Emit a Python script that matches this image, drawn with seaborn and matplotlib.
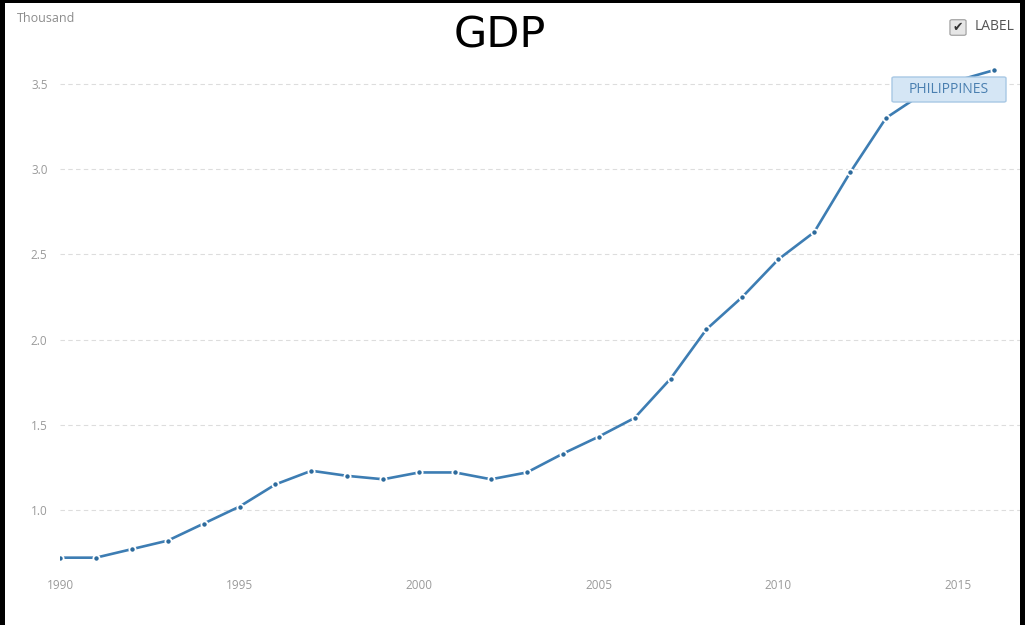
import pandas as pd
import matplotlib.pyplot as plt
import seaborn as sns
from matplotlib.patches import Rectangle, FancyBboxPatch

# GDP per capita, Philippines (thousand US$)
years = list(range(1990, 2017))
gdp = [0.72, 0.72, 0.77, 0.82, 0.92, 1.02, 1.15, 1.23, 1.20, 1.18,
       1.22, 1.22, 1.18, 1.22, 1.33, 1.43, 1.54, 1.77, 2.06, 2.25,
       2.47, 2.63, 2.98, 3.30, 3.44, 3.52, 3.58]
ytick_vals = [1.0, 1.5, 2.0, 2.5, 3.0, 3.5]
xtick_vals = [1990, 1995, 2000, 2005, 2010, 2015]
series_label = "PHILIPPINES"

df = pd.DataFrame({"year": years, "gdp": gdp})

sns.set_style("white")
plt.rcParams["font.family"] = ["Open Sans", "DejaVu Sans"]

W, H = 1025, 625
fig = plt.figure(figsize=(W / 100, H / 100), dpi=100)
# axes in pixel terms: left 60, right 1020, top 60, bottom 565
ax = fig.add_axes([60 / W, (H - 565) / H, 960 / W, 505 / H])

line_color = "#3d7db3"
sns.lineplot(data=df, x="year", y="gdp", ax=ax, color=line_color,
             linewidth=1.9, marker="o", markersize=4.5,
             markerfacecolor="#2d6a9c", markeredgecolor="white",
             markeredgewidth=1.3)

ax.set_xlim(1990, 2016.73)
ax.set_ylim(0.677, 3.64)
ax.set_yticks(ytick_vals)
ax.set_yticklabels([f"{v:.1f}" for v in ytick_vals])
ax.set_xticks(xtick_vals)
ax.set_xticklabels([str(v) for v in xtick_vals])
ax.tick_params(axis="y", length=0, labelsize=8.5, labelcolor="#9a9a9a", pad=9)
ax.tick_params(axis="x", length=4, width=0.6, color="#cccccc", direction="out",
               labelsize=8.5, labelcolor="#9a9a9a", pad=6)
ax.set_xlabel("")
ax.set_ylabel("")
for sp in ax.spines.values():
    sp.set_visible(False)
ax.grid(axis="y", color="#dddddd", linestyle=(0, (4, 3)), linewidth=0.8)
ax.set_axisbelow(True)

# series label box (pixel box 892-1006 x 77-102)
fig.patches.append(FancyBboxPatch((892 / W, 1 - 102 / H), 114 / W, 25 / H,
                                  boxstyle="round,pad=0,rounding_size=0.002",
                                  fc="#d5e6f5", ec="#a8c8e4", lw=1,
                                  transform=fig.transFigure, zorder=5))
fig.text(949 / W, 1 - 89.5 / H, series_label, ha="center", va="center",
         fontsize=10, color="#4a7fb0", zorder=6)

# title and unit
fig.text(500 / W, 1 - 35 / H, "GDP", ha="center", va="center", fontsize=31,
         color="black", family=["DejaVu Sans"])
fig.text(17 / W, 1 - 18 / H, "Thousand", ha="left", va="center", fontsize=9,
         color="#8c8c8c")

# "LABEL" checkbox
fig.patches.append(FancyBboxPatch((952 / W, 1 - 34 / H), 12 / W, 13 / H,
                                  boxstyle="round,pad=0.002", fc="#e6e6e6",
                                  ec="#9a9a9a", lw=0.8, transform=fig.transFigure))
fig.text(958 / W, 1 - 27.5 / H, "\u2714", ha="center", va="center", fontsize=9,
         color="#333333", family=["DejaVu Sans"])
fig.text(975 / W, 1 - 27 / H, "LABEL", ha="left", va="center", fontsize=10,
         color="#555555")

# black frame around the screenshot
for x0, y0, w, h in [(0, 0, 5, H), (0, H - 3, W, 3), (W - 5, 0, 5, H)]:
    fig.patches.append(Rectangle((x0 / W, y0 / H), w / W, h / H, fc="black",
                                 ec="none", transform=fig.transFigure))

fig.savefig("out.png", dpi=100)
